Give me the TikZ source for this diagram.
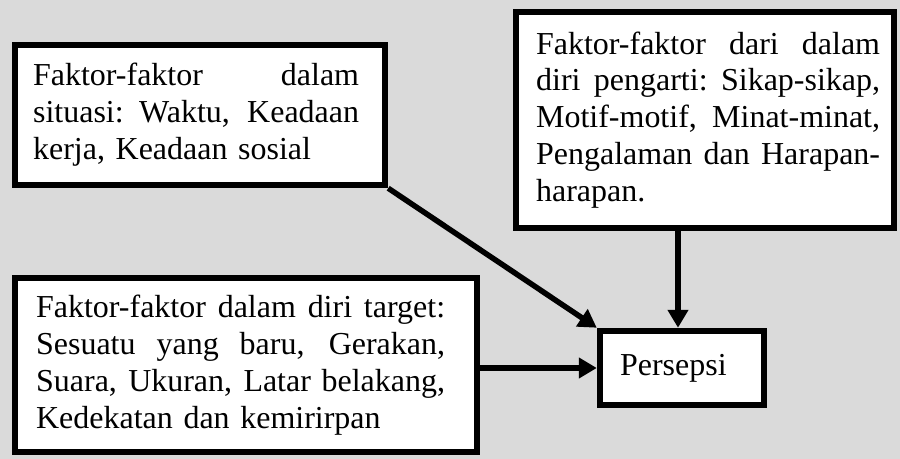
\documentclass[tikz,border=0pt]{standalone}
\usepackage{fontspec}
\setmainfont{Liberation Serif}
\usetikzlibrary{arrows.meta}
\definecolor{bgc}{RGB}{218,218,218}
\newcommand{\jl}[2]{\makebox[#1][s]{\spaceskip=0.25em plus 1fil\xspaceskip=0.25em plus 1fil #2}}
\begin{document}
\begin{tikzpicture}[x=0.02cm,y=-0.02cm,
  boxnode/.style={draw=black, fill=white, line width=0.13cm, inner sep=0pt},
  txt/.style={inner sep=0pt, align=left, font=\fontsize{18.2}{21}\selectfont},
  conn/.style={line width=0.11cm, -{Triangle[length=0.36cm,width=0.4cm]}}]
\fill[bgc] (0,0) rectangle (900,459);
\useasboundingbox (0,0) rectangle (900,459);

% boxes
\node[boxnode, minimum width=7.4cm, minimum height=2.8cm] (b1) at (200,115) {};
\node[boxnode, minimum width=7.56cm, minimum height=4.32cm] (b2) at (705,120) {};
\node[boxnode, minimum width=9.24cm, minimum height=3.48cm] (b3) at (246,365) {};
\node[boxnode, minimum width=3.28cm, minimum height=1.48cm] (p) at (682,368) {};

% texts
\node[txt, text width=6.52cm, anchor=west] (t1) at ([xshift=0.42cm]b1.west)
  {\jl{6.52cm}{Faktor-faktor dalam}\\
   \jl{6.52cm}{situasi: Waktu, Keadaan}\\
   kerja, Keadaan sosial};
\node[txt, text width=6.88cm, anchor=west] (t2) at ([xshift=0.46cm]b2.west)
  {\jl{6.88cm}{Faktor-faktor dari dalam}\\
   \jl{6.88cm}{diri pengarti: Sikap-sikap,}\\
   \jl{6.88cm}{Motif-motif, Minat-minat,}\\
   \jl{6.88cm}{Pengalaman dan Harapan-}\\
   harapan.};
\node[txt, text width=8.18cm, anchor=west] (t3) at ([xshift=0.48cm]b3.west)
  {\jl{8.18cm}{Faktor-faktor dalam diri target:}\\
   \jl{8.18cm}{Sesuatu yang baru, Gerakan,}\\
   \jl{8.18cm}{Suara, Ukuran, Latar belakang,}\\
   Kedekatan dan kemirirpan};
\node[txt, anchor=west] (tp) at ([xshift=0.46cm]p.west) {Persepsi};

% connectors
\draw[conn] (b1.south east) -- (p.north west);
\draw[conn] ([xshift=-0.08cm]p.north |- b2.south) -- ([xshift=-0.08cm]p.north);
\draw[conn] (b3.east |- p.west) -- (p.west);
\end{tikzpicture}
\end{document}
